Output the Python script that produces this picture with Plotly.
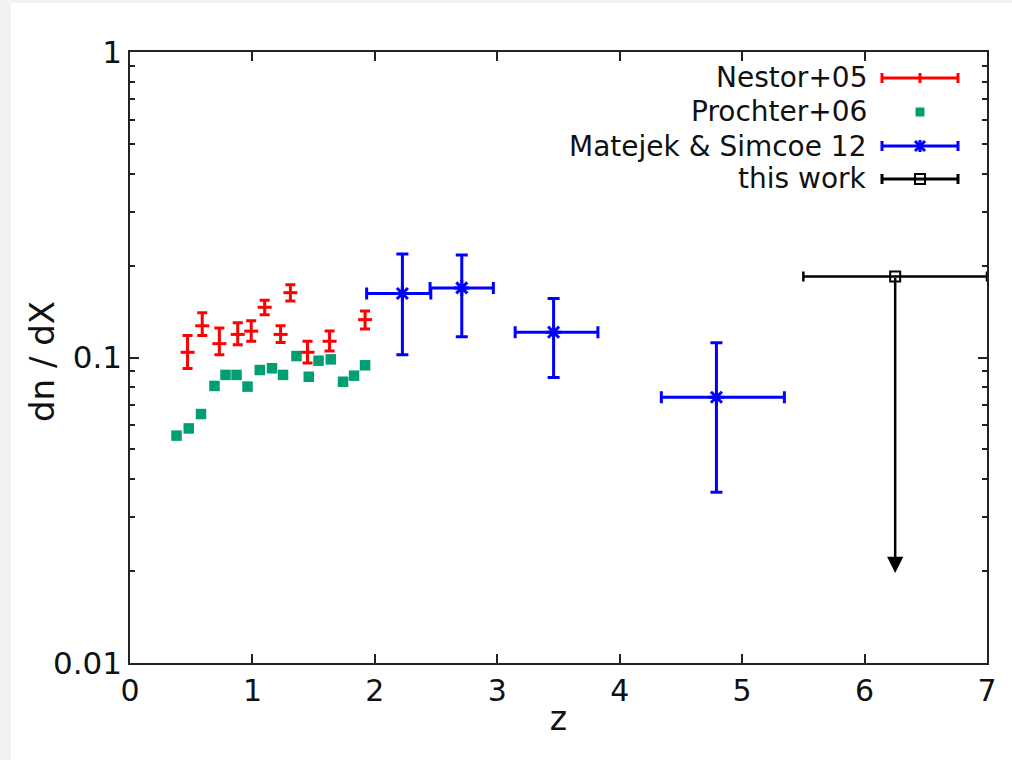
import numpy as np
import plotly.graph_objects as go

# ---------------- data ----------------
# Nestor+05
nestor_z = [0.47, 0.59, 0.73, 0.88, 0.99, 1.10, 1.23, 1.31, 1.45, 1.63, 1.92]
nestor_dndx = [0.104, 0.127, 0.111, 0.119, 0.122, 0.146, 0.119, 0.163, 0.104, 0.113, 0.133]
nestor_err_hi = [0.014, 0.013, 0.014, 0.011, 0.010, 0.008, 0.008, 0.010, 0.009, 0.009, 0.009]
nestor_err_lo = [0.012, 0.009, 0.009, 0.009, 0.009, 0.008, 0.007, 0.010, 0.008, 0.008, 0.009]

# Prochter+06
prochter_z = [0.38, 0.48, 0.58, 0.69, 0.78, 0.87, 0.96, 1.06, 1.16, 1.25, 1.36, 1.46,
              1.54, 1.64, 1.74, 1.83, 1.92]
prochter_dndx = [0.0555, 0.0586, 0.0653, 0.0807, 0.0877, 0.0877, 0.0803, 0.0910, 0.0922,
                 0.0877, 0.1011, 0.0865, 0.0976, 0.0986, 0.0833, 0.0872, 0.0943]

# Matejek & Simcoe 12
matejek_z = [2.225, 2.71, 3.46, 4.79]
matejek_z_lo = [0.292, 0.259, 0.314, 0.45]
matejek_z_hi = [0.232, 0.258, 0.362, 0.555]
matejek_dndx = [0.162, 0.169, 0.121, 0.0741]
matejek_err_hi = [0.056, 0.0475, 0.035, 0.0377]
matejek_err_lo = [0.060, 0.052, 0.035, 0.0379]

# this work (upper limit)
this_z = [6.25]
this_z_err = [0.75]
this_dndx = [0.184]
this_arrow_end = [0.0197]

legend_names = ["Nestor+05", "Prochter+06", "Matejek & Simcoe 12", "this work"]
x_title = "z"
y_title = "dn / dX"

RED = "#ff0000"
GREEN = "#009e73"
BLUE = "#0000ff"
BLACK = "#000000"
FONT = "DejaVu Sans"

W, H = 1012, 760
ML, MR, MT, MB = 130, 25, 52, 97
PW, PH = W - ML - MR, H - MT - MB


def PX(x):
    return (x - ML) / PW


def PY(y):
    return (H - MB - y) / PH


fig = go.Figure()

fig.add_trace(go.Scatter(
    x=nestor_z, y=nestor_dndx, mode="markers", name=legend_names[0],
    marker=dict(symbol="line-ew-open", size=10, color=RED, line=dict(color=RED, width=3)),
    error_y=dict(type="data", array=nestor_err_hi, arrayminus=nestor_err_lo,
                 color=RED, thickness=3, width=5),
    showlegend=False,
))

fig.add_trace(go.Scatter(
    x=prochter_z, y=prochter_dndx, mode="markers", name=legend_names[1],
    marker=dict(symbol="square", size=10.5, color=GREEN),
    showlegend=False,
))

fig.add_trace(go.Scatter(
    x=matejek_z, y=matejek_dndx, mode="markers", name=legend_names[2],
    marker=dict(symbol="asterisk-open", size=13, color=BLUE, line=dict(color=BLUE, width=3)),
    error_y=dict(type="data", array=matejek_err_hi, arrayminus=matejek_err_lo,
                 color=BLUE, thickness=3, width=6),
    error_x=dict(type="data", array=matejek_z_hi, arrayminus=matejek_z_lo,
                 color=BLUE, thickness=3, width=6),
    showlegend=False,
))

fig.add_trace(go.Scatter(
    x=this_z, y=this_dndx, mode="markers", name=legend_names[3],
    marker=dict(symbol="square-open", size=10, color=BLACK, line=dict(color=BLACK, width=2)),
    error_x=dict(type="data", array=this_z_err, color=BLACK, thickness=2.5, width=5),
    showlegend=False,
))

# upper-limit arrow
for zx, y0, y1 in zip(this_z, this_dndx, this_arrow_end):
    fig.add_annotation(
        x=zx, y=np.log10(y1), ax=zx, ay=np.log10(y0),
        xref="x", yref="y", axref="x", ayref="y",
        showarrow=True, arrowhead=2, arrowsize=1.3, arrowwidth=2.5,
        arrowcolor=BLACK, text="",
    )

shapes = []
# white panel on light grey page
shapes.append(dict(type="rect", xref="paper", yref="paper", layer="below",
                   x0=PX(11), x1=PX(W + 5), y0=PY(H + 5), y1=PY(3),
                   fillcolor="white", line=dict(width=0)))

# custom legend (gnuplot style: text right, sample on the right)
rows = [78, 112, 146, 179]
colors = [RED, GREEN, BLUE, BLACK]
lx0, lx1, lxc = 882, 958, 920
for i, (name, yy, c) in enumerate(zip(legend_names, rows, colors)):
    fig.add_annotation(x=PX(869), y=PY(yy), xref="paper", yref="paper",
                       text=name, showarrow=False, xanchor="right", yanchor="middle",
                       font=dict(family=FONT, size=28, color="#111111"))
    if i == 1:
        shapes.append(dict(type="rect", xref="paper", yref="paper",
                           x0=PX(lxc - 4.5), x1=PX(lxc + 4.5),
                           y0=PY(yy + 4.5), y1=PY(yy - 4.5),
                           fillcolor=GREEN, line=dict(width=0)))
        continue
    lw = 3
    shapes.append(dict(type="line", xref="paper", yref="paper",
                       x0=PX(lx0), x1=PX(lx1), y0=PY(yy), y1=PY(yy),
                       line=dict(color=c, width=lw)))
    for cx in (lx0, lx1):
        shapes.append(dict(type="line", xref="paper", yref="paper",
                           x0=PX(cx), x1=PX(cx), y0=PY(yy - 5), y1=PY(yy + 5),
                           line=dict(color=c, width=lw)))
    if i == 0:
        shapes.append(dict(type="line", xref="paper", yref="paper",
                           x0=PX(lxc), x1=PX(lxc), y0=PY(yy - 5), y1=PY(yy + 5),
                           line=dict(color=c, width=3)))
    elif i == 2:
        for dx, dy in [(0, 6), (5, 5), (-5, 5)]:
            shapes.append(dict(type="line", xref="paper", yref="paper",
                               x0=PX(lxc - dx), x1=PX(lxc + dx),
                               y0=PY(yy - dy), y1=PY(yy + dy),
                               line=dict(color=c, width=3)))
    elif i == 3:
        shapes.append(dict(type="rect", xref="paper", yref="paper",
                           x0=PX(lxc - 5), x1=PX(lxc + 5),
                           y0=PY(yy + 5), y1=PY(yy - 5),
                           fillcolor="rgba(0,0,0,0)", line=dict(color=c, width=2)))

# y axis title (placed like gnuplot's ylabel)
fig.add_annotation(x=PX(42), y=PY(362), xref="paper", yref="paper",
                   text=y_title, textangle=-90, showarrow=False,
                   xanchor="center", yanchor="middle",
                   font=dict(family=FONT, size=34, color="#111111"))

minor_vals = [m * 10.0 ** e for e in (-2, -1) for m in range(2, 10)]

fig.update_layout(
    width=W, height=H,
    margin=dict(l=ML, r=MR, t=MT, b=MB),
    paper_bgcolor="#f2f2f2",
    plot_bgcolor="white",
    shapes=shapes,
    font=dict(family=FONT, color="#111111"),
    xaxis=dict(
        range=[0, 7], tickmode="array", tickvals=list(range(8)),
        ticks="inside", ticklen=9, tickwidth=1.5, tickcolor="#222222",
        showline=True, linecolor="#222222", linewidth=1.5, mirror="ticks",
        showgrid=False, zeroline=False,
        tickfont=dict(family=FONT, size=30, color="#111111"),
        title=dict(text=x_title, font=dict(family=FONT, size=33, color="#111111"), standoff=0),
    ),
    yaxis=dict(
        type="log", range=[-2, 0], tickmode="array",
        tickvals=[0.01, 0.1, 1], ticktext=["0.01", "0.1", "1"],
        ticks="inside", ticklen=9, tickwidth=1.5, tickcolor="#222222",
        minor=dict(tickmode="array", tickvals=minor_vals, ticks="inside",
                   ticklen=5, tickwidth=1.5, tickcolor="#222222"),
        showline=True, linecolor="#222222", linewidth=1.5, mirror="ticks",
        showgrid=False, zeroline=False,
        tickfont=dict(family=FONT, size=31, color="#111111"),
    ),
)

fig.write_html("out.html")
